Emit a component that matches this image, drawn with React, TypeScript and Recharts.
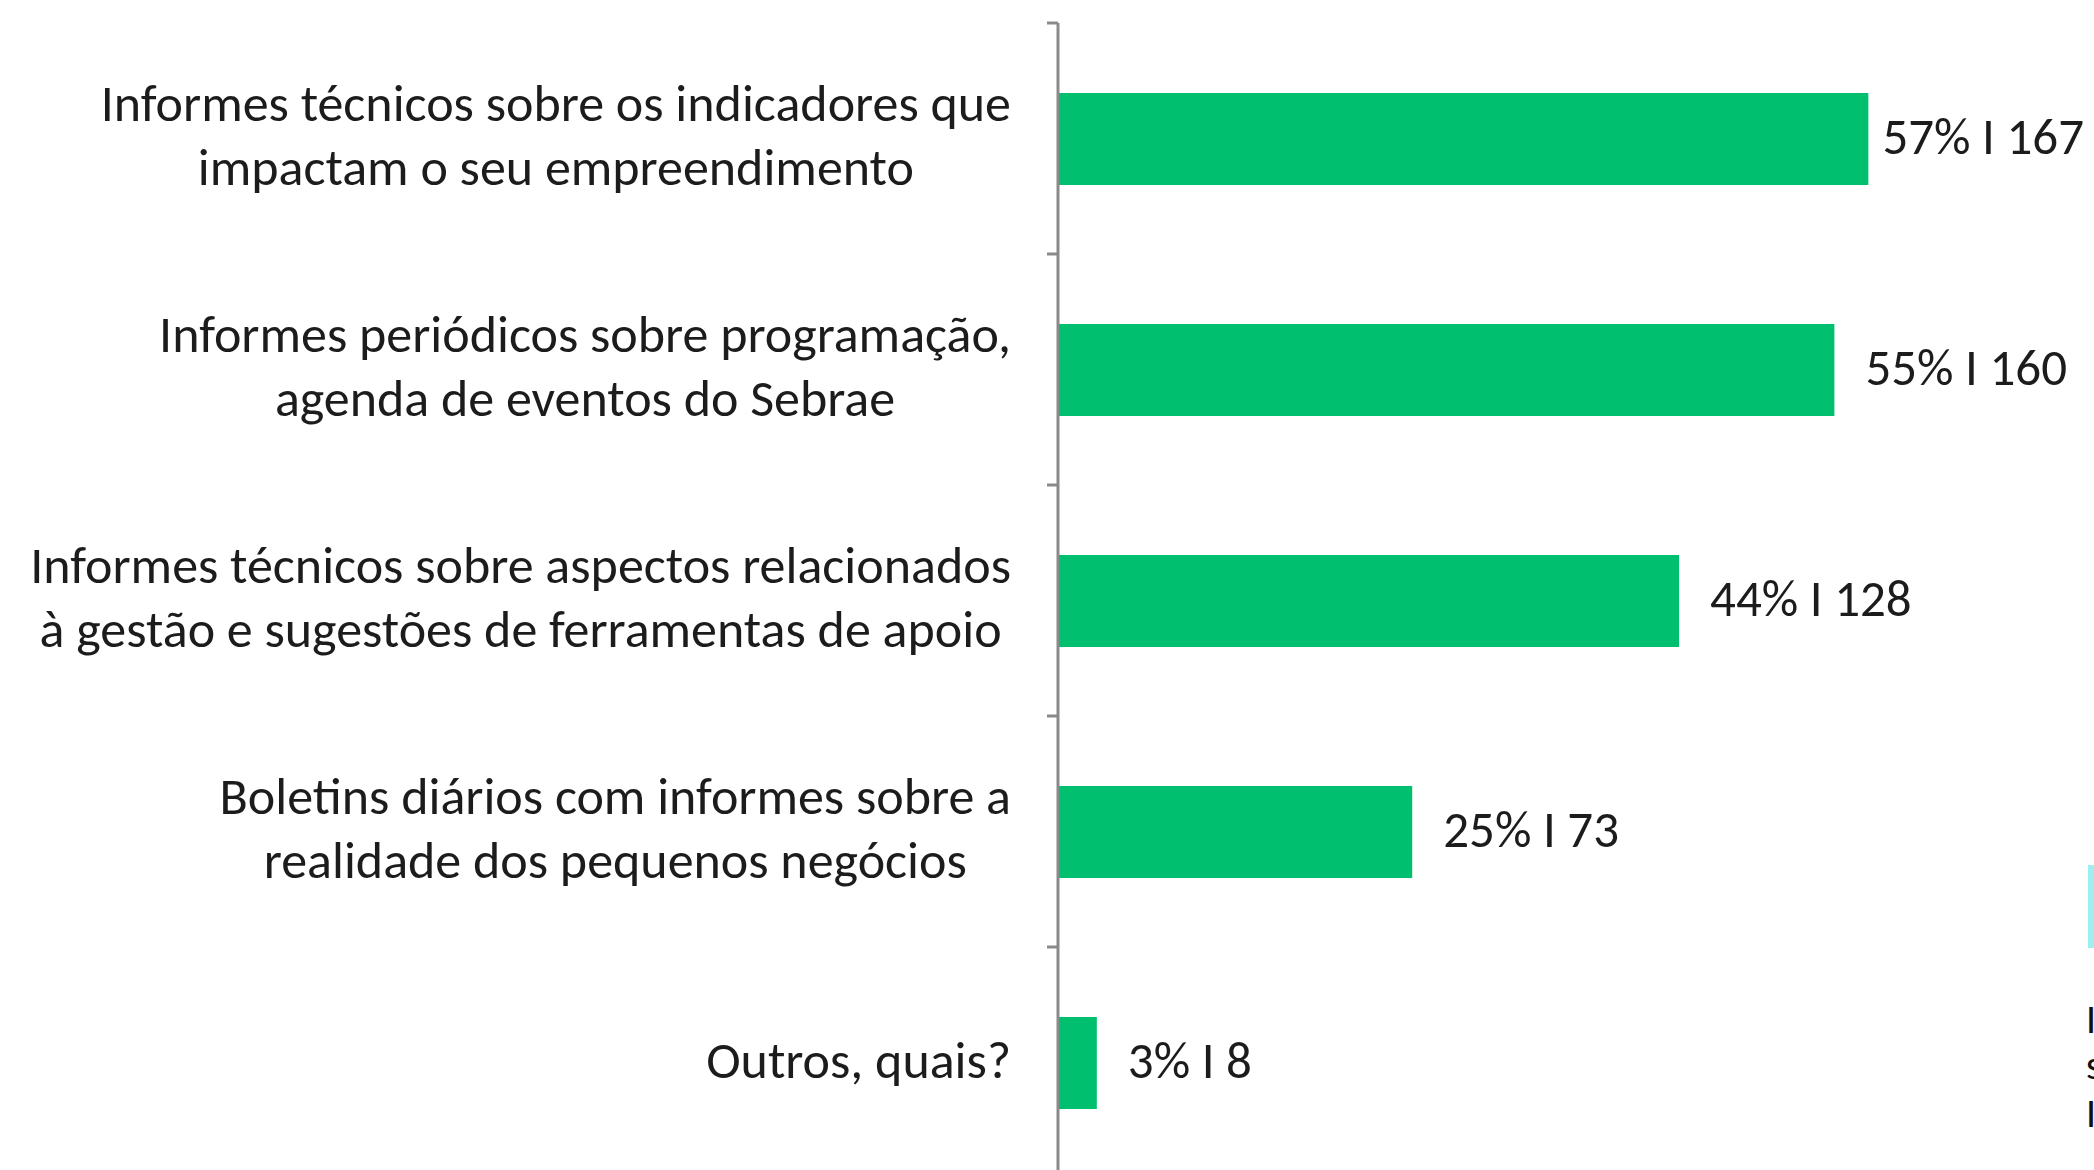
import React from "react";
import { BarChart, Bar, XAxis, YAxis, LabelList } from "recharts";

const categories = [
  ["Informes técnicos sobre os indicadores que", "impactam o seu empreendimento"],
  ["Informes periódicos sobre programação,", "agenda de eventos do Sebrae"],
  ["Informes técnicos sobre aspectos relacionados", "à gestão e sugestões de ferramentas de apoio"],
  ["Boletins diários com informes sobre a", "realidade dos pequenos negócios"],
  ["Outros, quais?"],
];
const percents = [57, 55, 44, 25, 3];
const counts = [167, 160, 128, 73, 8];

const data = categories.map((lines, i) => ({
  name: lines.join(" "),
  lines,
  pct: percents[i],
  count: counts[i],
}));

const FONT = "Carlito, 'Liberation Sans', Arial, sans-serif";
const CAT_SIZE = 52;
const VAL_SIZE = 51;
const W = 2094;
const H = 1180;
const BAND = (H - 23 - 2) / data.length;

let ctx: CanvasRenderingContext2D | null = null;
function textWidth(s: string, size: number) {
  if (!ctx) ctx = document.createElement("canvas").getContext("2d");
  if (!ctx) return s.length * size * 0.5;
  ctx.font = `${size}px ${FONT}`;
  return ctx.measureText(s).width;
}

function CategoryTick(props: any) {
  const { x, y, payload, index } = props;
  const row = data.find(d => d.name === payload.value);
  const lines = row ? row.lines : [payload.value];
  const block = Math.max(...lines.map(l => textWidth(l, CAT_SIZE)));
  const cx = x - block / 2;
  const axisX = x + 47;
  const offs = lines.length === 1 ? [-3] : [-36, 28];
  return (
    <g>
      {lines.map((l, i) => (
        <text key={i} x={cx} y={y + offs[i]} textAnchor="middle" dominantBaseline="central"
          fontFamily={FONT} fontSize={CAT_SIZE} fill="#1c1c1c">{l}</text>
      ))}
      <line x1={axisX - 11} x2={axisX} y1={y - BAND / 2} y2={y - BAND / 2} stroke="#8a8a8a" strokeWidth={3} />
      {index === data.length - 1 && (
        <line x1={axisX - 11} x2={axisX} y1={y + BAND / 2} y2={y + BAND / 2} stroke="#8a8a8a" strokeWidth={3} />
      )}
    </g>
  );
}

function ValueLabel(props: any) {
  const { x, y, width, height, index } = props;
  const txt = `${percents[index]}% I ${counts[index]}`;
  const tw = textWidth(txt, VAL_SIZE);
  let tx = x + width + 31;
  if (tx + tw > W - 10) tx = W - 10 - tw;
  return (
    <text x={tx} y={y + height / 2 - 3} dominantBaseline="central" fontFamily={FONT} fontSize={VAL_SIZE} fill="#1c1c1c">
      {txt}
    </text>
  );
}

export default function App() {
  return (
    <div style={{ position: "fixed", left: 0, top: 0, width: W, height: 1170, overflow: "hidden", background: "#fff" }}>
      <BarChart width={W} height={H} data={data} layout="vertical" margin={{ top: 23, right: 17, bottom: 2, left: 0 }}>
        <XAxis type="number" domain={[0, 210]} hide />
        <YAxis
          type="category"
          dataKey="name"
          width={1058}
          tick={<CategoryTick />}
          tickLine={false}
          tickSize={11}
          tickMargin={36}
          axisLine={{ stroke: "#8a8a8a", strokeWidth: 3 }}
          interval={0}
        />
        <Bar dataKey="count" fill="#00bf6f" barSize={92} isAnimationActive={false}>
          <LabelList dataKey="count" content={<ValueLabel />} />
        </Bar>
      </BarChart>
      <div style={{ position: "absolute", left: 2088, top: 865, width: 20, height: 83, background: "#9eefef" }} />
      <div style={{ position: "absolute", left: 2086, top: 1000, fontFamily: FONT, fontSize: 40, color: "#111", lineHeight: "40px" }}>I</div>
      <div style={{ position: "absolute", left: 2086, top: 1046, fontFamily: FONT, fontSize: 40, color: "#111", lineHeight: "40px" }}>s</div>
      <div style={{ position: "absolute", left: 2086, top: 1094, fontFamily: FONT, fontSize: 40, color: "#111", lineHeight: "40px" }}>I</div>
    </div>
  );
}
